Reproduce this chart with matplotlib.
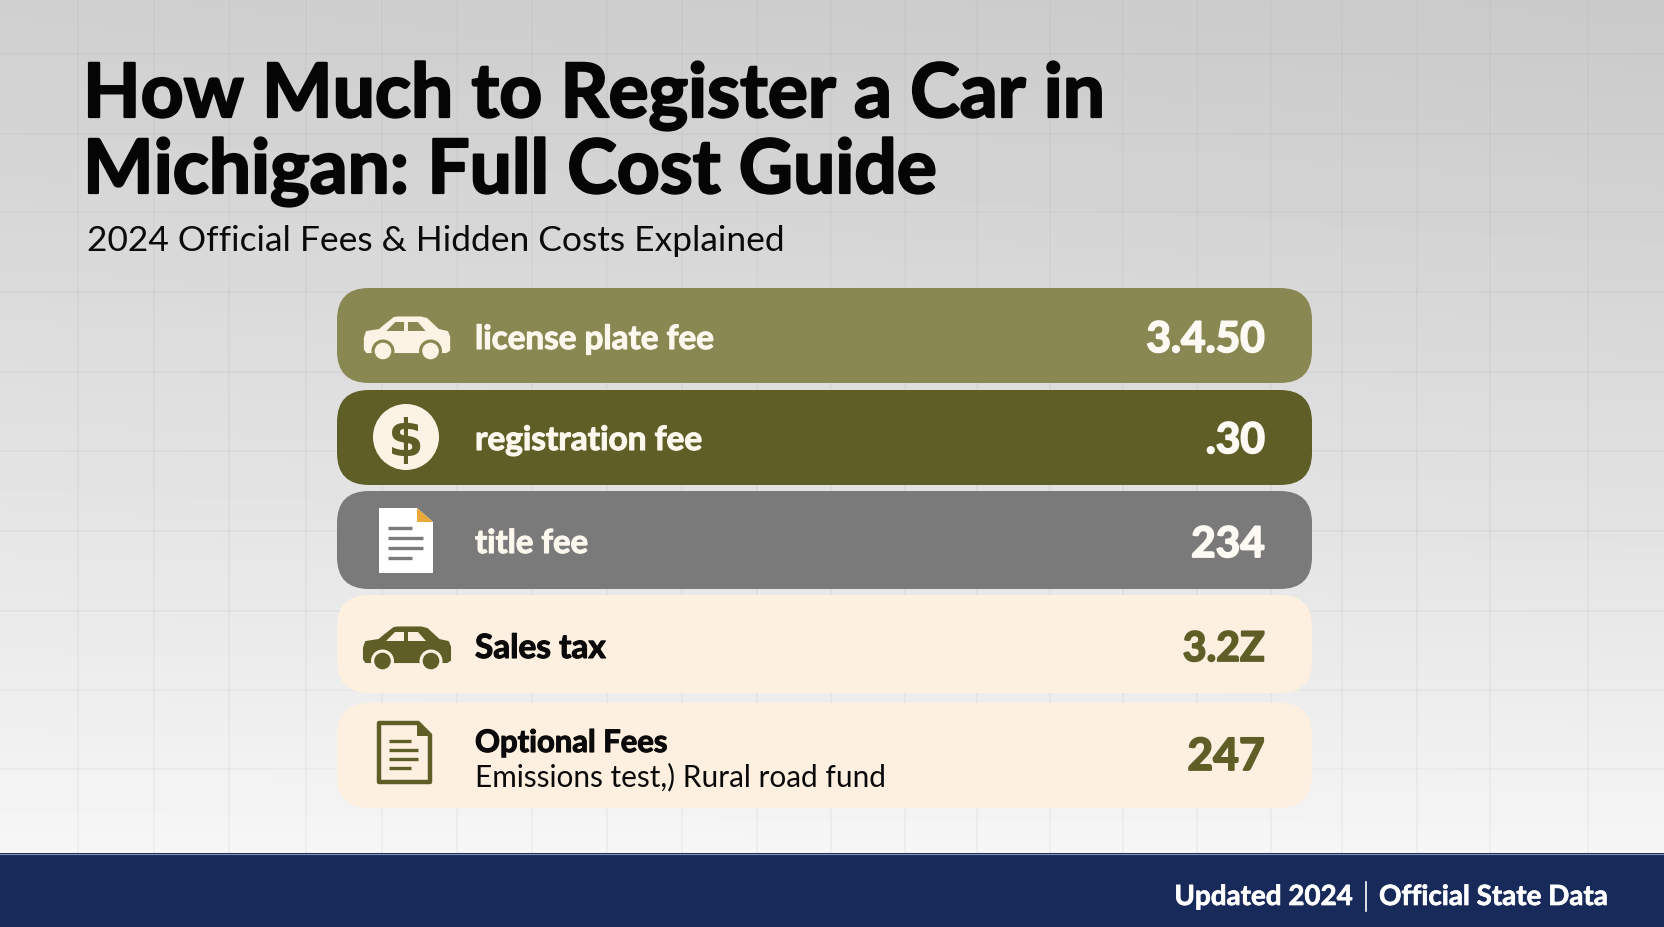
import matplotlib
matplotlib.use("Agg")
import matplotlib.pyplot as plt
import matplotlib.patheffects as pe
from matplotlib.patches import FancyBboxPatch, Circle, Polygon, Rectangle
import numpy as np

# ---------------------------------------
# Chart content
# ---------------------------------------
title_lines = ["How Much to Register a Car in", "Michigan: Full Cost Guide"]
subtitle = "2024 Official Fees & Hidden Costs Explained"
row_labels = ["license plate fee", "registration fee", "title fee", "Sales tax", "Optional Fees"]
row_values = ["3.4.50", ".30", "234", "3.2Z", "247"]
optional_note = "Emissions test,) Rural road fund"
footer_left = "Updated 2024"
footer_right = "Official State Data"

# ---------------------------------------
# Layout, in image pixels
# ---------------------------------------
W, H = 1664, 928
FOOT_Y = 854
row_tops = [289, 391, 492, 596, 704]
row_bottoms = [384, 486, 590, 694, 809]
label_base = [350, 451, 554, 659, 753]
value_base = [353, 454, 558, 662, 771]
label_sizes = [23.9, 24, 23.6, 24, 22.3]
value_sizes = [30.5, 30.5, 30.5, 29.5, 32]
bar_colors = ["#8a8852", "#5f5e27", "#7a7a7a", "#fdf0e0", "#fdf0e0"]
label_colors = ["#fdf8ee", "#fdf8ee", "#fdf8ee", "#0a0a0a", "#0a0a0a"]
value_colors = ["#fdfaf4", "#fdfaf4", "#fdfaf4", "#5f5e27", "#5f5e27"]
grid_x = [78, 154, 229, 306, 382, 457, 532, 607, 682, 757, 831, 905, 977, 1050,
          1123, 1197, 1271, 1342, 1417, 1490, 1588]
grid_y = [55, 135, 213, 293, 373, 452, 532, 612, 691, 770]
OLIVE = "#5f5e27"
CREAM = "#fdf0e0"
FONT = "Lato"

fig = plt.figure(figsize=(W / 100, H / 100), dpi=100)
ax = fig.add_axes([0, 0, 1, 1])
ax.set_xlim(0, W)
ax.set_ylim(H, 0)
ax.axis("off")

# Background fade, light grey to near white, a bit darker to the upper right
yy, xx = np.mgrid[0:1:200j, 0:1:200j]
bg = 0.815 + 0.165 * yy ** 1.15 - 0.025 * xx * (1 - yy)
ax.imshow(bg, extent=[0, W, H, 0], cmap="gray", vmin=0, vmax=1, aspect="auto", zorder=0)

for x in grid_x:
    ax.plot([x, x], [0, 290], color="black", alpha=0.022, lw=1.1, zorder=1)
    ax.plot([x, x], [290, FOOT_Y], color="black", alpha=0.04, lw=1.1, zorder=1)
for y in grid_y:
    ax.plot([0, W], [y, y], color="black", alpha=0.022 if y < 290 else 0.035, lw=1.1, zorder=1)


def heavy(width, color):
    # the installed bold is lighter than the reference, so thicken it
    return [pe.withStroke(linewidth=width, foreground=color)]


def car_icon(cx, cy, body, cut, sx=1.0):
    # outline, local units are px from icon centre
    def P(pts):
        return [(cx + px * sx, cy + py) for px, py in pts]
    outline = [(-43, -1), (-41, -7), (-28, -9), (-22, -14), (-13, -21), (-9, -21.5), (14, -21.5),
               (20, -20), (32, -9), (41, -7), (43, -2), (43, 11), (40, 13), (-41, 13), (-43, 10)]
    ax.add_patch(Polygon(P(outline), closed=True, fc=body, ec=body, lw=1.5, joinstyle="round", zorder=4))
    ax.add_patch(Polygon(P([(-21, -8), (-12, -17), (-3, -17), (-3, -8)]), closed=True, fc=cut, ec="none", zorder=5))
    ax.add_patch(Polygon(P([(1, -17), (11, -17), (19, -8), (1, -8)]), closed=True, fc=cut, ec="none", zorder=5))
    for wx in (-24.5, 24):
        ax.add_patch(Circle((cx + wx * sx, cy + 12), 11.5, fc=cut, ec="none", zorder=5))
        ax.add_patch(Circle((cx + wx * sx, cy + 12), 8.3, fc=body, ec="none", zorder=6))


def lines_icon(xs, xe, xshort, ys, color, lw):
    for i, y in enumerate(ys):
        end = xshort if i in (0, len(ys) - 1) else xe
        ax.plot([xs, end], [y, y], color=color, lw=lw, solid_capstyle="butt", zorder=6)


# Rows
for top, bottom, c in zip(row_tops, row_bottoms, bar_colors):
    ax.add_patch(FancyBboxPatch((337, top), 1312 - 337, bottom - top,
                                boxstyle="round,pad=0,rounding_size=32",
                                fc=c, ec="none", zorder=3))

for lab, val, lb, vb, ls, vs, lc, vc in zip(row_labels, row_values, label_base, value_base,
                                            label_sizes, value_sizes, label_colors, value_colors):
    ax.text(475, lb, lab, fontsize=ls, fontweight="bold", family=FONT, color=lc,
            va="baseline", ha="left", zorder=7, path_effects=heavy(0.8, lc))
    ax.text(1265, vb, val, fontsize=vs, fontweight="bold", family=FONT, color=vc,
            va="baseline", ha="right", zorder=7, path_effects=heavy(1.3, vc))
ax.text(475, 786, optional_note, fontsize=21.4, family=FONT, color="#0a0a0a",
        va="baseline", ha="left", zorder=7)

# Icons
car_icon(407, 340, "#fdf3e5", bar_colors[0], sx=0.98)
ax.add_patch(Circle((406, 438), 33, fc="#fdf3e5", ec="none", zorder=4))
ax.text(406, 456, "$", fontsize=37, fontweight="bold", family="DejaVu Sans", color=OLIVE,
        ha="center", va="baseline", zorder=5)

ax.add_patch(Polygon([(379, 509), (417, 509), (433, 523), (433, 574), (379, 574)],
                     closed=True, fc="white", ec="none", zorder=4))
ax.add_patch(Polygon([(417, 509), (433, 523), (417, 523)], closed=True, fc="#e8a93a", ec="none", zorder=5))
lines_icon(388, 423, 412, [529, 539, 549, 559], "#7a7a7a", 2.4)

car_icon(407, 650, OLIVE, CREAM)

ax.add_patch(Polygon([(379, 724), (418, 724), (430, 736), (430, 783), (379, 783)],
                     closed=True, fc=CREAM, ec=OLIVE, lw=3.2, joinstyle="round", zorder=4))
ax.add_patch(Polygon([(417, 724), (430, 737), (417, 737)], closed=True, fc=OLIVE, ec="none", zorder=5))
lines_icon(389, 418, 411, [742, 751, 760, 769], OLIVE, 2.4)

# Title block
for line, base in zip(title_lines, [118, 194]):
    ax.text(83, base, line, fontsize=53.9, fontweight="bold", family=FONT, color="#050505",
            va="baseline", ha="left", zorder=7, path_effects=heavy(1.6, "#050505"))
ax.text(87, 251, subtitle, fontsize=25.5, family=FONT, color="#0a0a0a",
        va="baseline", ha="left", zorder=7)

# Footer band
ax.add_patch(Rectangle((0, FOOT_Y), W, H - FOOT_Y, fc="#182a5a", ec="none", zorder=8))
ax.plot([0, W], [FOOT_Y + 0.5, FOOT_Y + 0.5], color="#8a94ad", lw=0.8, zorder=9)
ax.text(1353, 906, footer_left, fontsize=20, fontweight="bold", family=FONT, color="white",
        va="baseline", ha="right", zorder=10, path_effects=heavy(0.5, "white"))
ax.plot([1366, 1366], [883, 912], color="white", lw=1.2, zorder=10)
ax.text(1379, 906, footer_right, fontsize=20, fontweight="bold", family=FONT, color="white",
        va="baseline", ha="left", zorder=10, path_effects=heavy(0.5, "white"))

fig.savefig("out.png", dpi=100)
